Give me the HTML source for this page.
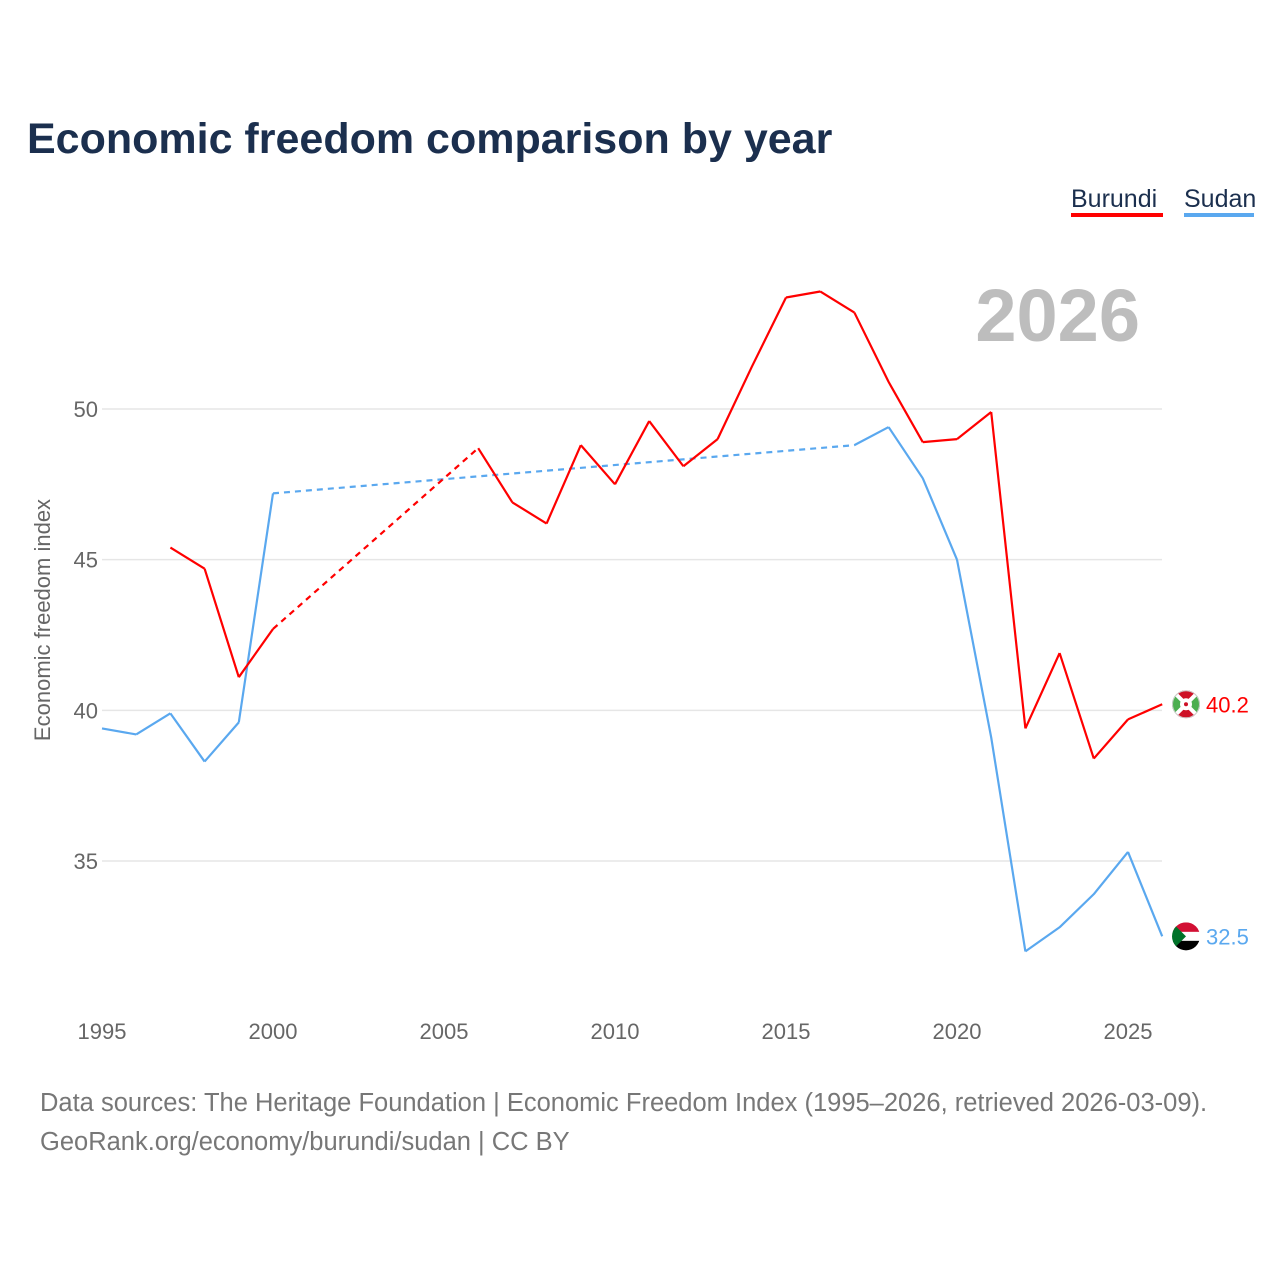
<!DOCTYPE html>
<html><head><meta charset="utf-8"><style>
body{margin:0;background:#fff;width:1280px;height:1280px;overflow:hidden;font-family:"Liberation Sans",sans-serif}
</style></head><body>
<svg width="1280" height="1280" style="position:absolute;left:0;top:0">
<text x="27" y="153" font-size="43" font-weight="bold" fill="#1b2f4e">Economic freedom comparison by year</text>
<g>
<text x="1071" y="207" font-size="25" fill="#1b2f4e">Burundi</text>
<rect x="1071" y="213" width="92" height="4" fill="#ff0000"/>
<text x="1184" y="207" font-size="25" fill="#1b2f4e">Sudan</text>
<rect x="1184" y="213" width="70" height="4" fill="#5aa8ef"/>
</g>
<text x="1140" y="341" font-size="74" font-weight="bold" fill="#bdbdbd" text-anchor="end">2026</text>
<g id="grid"></g><g id="xt"></g><g id="lines"></g>
<text transform="translate(50,620) rotate(-90)" font-size="22" fill="#666" text-anchor="middle">Economic freedom index</text>
<text x="40" y="1111" font-size="25.5" fill="#777">Data sources: The Heritage Foundation | Economic Freedom Index (1995–2026, retrieved 2026-03-09).</text>
<text x="40" y="1150" font-size="25.5" fill="#777">GeoRank.org/economy/burundi/sudan | CC BY</text>
</svg>
<script>
const years=[1995,1996,1997,1998,1999,2000,2001,2002,2003,2004,2005,2006,2007,2008,2009,2010,2011,2012,2013,2014,2015,2016,2017,2018,2019,2020,2021,2022,2023,2024,2025,2026];
const burundi=[null,null,45.4,44.7,41.1,42.7,null,null,null,null,null,48.7,46.9,46.2,48.8,47.5,49.6,48.1,49.0,51.4,53.7,53.9,53.2,50.9,48.9,49.0,49.9,39.4,41.9,38.4,39.7,40.2];
const sudan=[39.4,39.2,39.9,38.3,39.6,47.2,null,null,null,null,null,null,null,null,null,null,null,null,null,null,null,null,48.8,49.4,47.7,45.0,39.1,32.0,32.8,33.9,35.3,32.5];
const yTicks=[35,40,45,50];
const xTicks=[1995,2000,2005,2010,2015,2020,2025];
const NS="http://www.w3.org/2000/svg";
const X=y=>102+(y-1995)*34.2, Y=v=>409+(50-v)*30.133;
function mk(t,a,p){const e=document.createElementNS(NS,t);for(const k in a)e.setAttribute(k,a[k]);p.appendChild(e);return e;}
const g=document.getElementById('grid');
yTicks.forEach(v=>{
 const l=mk('line',{x1:102,x2:1162,y1:Y(v),y2:Y(v),stroke:'#e6e6e6','stroke-width':1.5},g);
 
 
 const t=mk('text',{x:98,y:Y(v)+8,'font-size':22,fill:'#666','text-anchor':'end'},g);t.textContent=v;
 
 
});
const xt=document.getElementById('xt');
xTicks.forEach(v=>{
 const t=mk('text',{x:X(v),y:1039,'font-size':22,fill:'#666','text-anchor':'middle'},xt);t.textContent=v;
 
 
});
const L=document.getElementById('lines');
function series(vals,col,name){
 let solid='',dashed='',prev=null,prevI=-1;
 vals.forEach((v,i)=>{
  if(v==null)return;
  if(prev!=null){
   const seg=`M${X(years[prevI])},${Y(prev)}L${X(years[i])},${Y(v)}`;
   if(i-prevI>1)dashed+=seg;else solid+=seg;
  }
  prev=v;prevI=i;
 });
 const s=mk('path',{d:solid,fill:'none',stroke:col,'stroke-width':2.2,'stroke-linejoin':'round'},L);
 
 
 const d=mk('path',{d:dashed,fill:'none',stroke:col,'stroke-width':2.2,'stroke-dasharray':'6 5'},L);
 
 
 const last=vals[vals.length-1],y=Y(last);
 const cp=mk('clipPath',{id:'cp-'+name},L);
 mk('circle',{cx:1186,cy:y,r:14},cp);
 const fg=mk('g',{'clip-path':`url(#cp-${name})`},L);
 
 
 mk('circle',{cx:1186,cy:y,r:14,fill:'#fff'},fg);
 if(name=='burundi'){
  mk('path',{d:`M1172,${y-14}L1200,${y-14}L1186,${y}Z M1172,${y+14}L1200,${y+14}L1186,${y}Z`,fill:'#ce1126'},fg);
  mk('path',{d:`M1172,${y-14}L1172,${y+14}L1186,${y}Z M1200,${y-14}L1200,${y+14}L1186,${y}Z`,fill:'#4caf50'},fg);
  mk('path',{d:`M1172,${y-14}L1200,${y+14}M1172,${y+14}L1200,${y-14}`,stroke:'#fff','stroke-width':4},fg);
  mk('circle',{cx:1186,cy:y,r:6,fill:'#fff'},fg);
  mk('circle',{cx:1186,cy:y,r:2,fill:'#ce1126'},fg);
  mk('circle',{cx:1186,cy:y,r:13.5,fill:'none',stroke:'#ccc','stroke-width':1},fg);
 }else{
  mk('rect',{x:1172,y:y-14,width:28,height:9.5,fill:'#d21034'},fg);
  mk('rect',{x:1172,y:y+4.5,width:28,height:10,fill:'#000'},fg);
  mk('path',{d:`M1172,${y-14}L1172,${y+14}L1186,${y}Z`,fill:'#007229'},fg);
 }
 const t=mk('text',{x:1206,y:y+8,'font-size':22,fill:col},L);t.textContent=last.toFixed(1);
 
 
}
series(sudan,'#5aa8ef','sudan');
series(burundi,'#ff0000','burundi');
</script>
</body></html>
